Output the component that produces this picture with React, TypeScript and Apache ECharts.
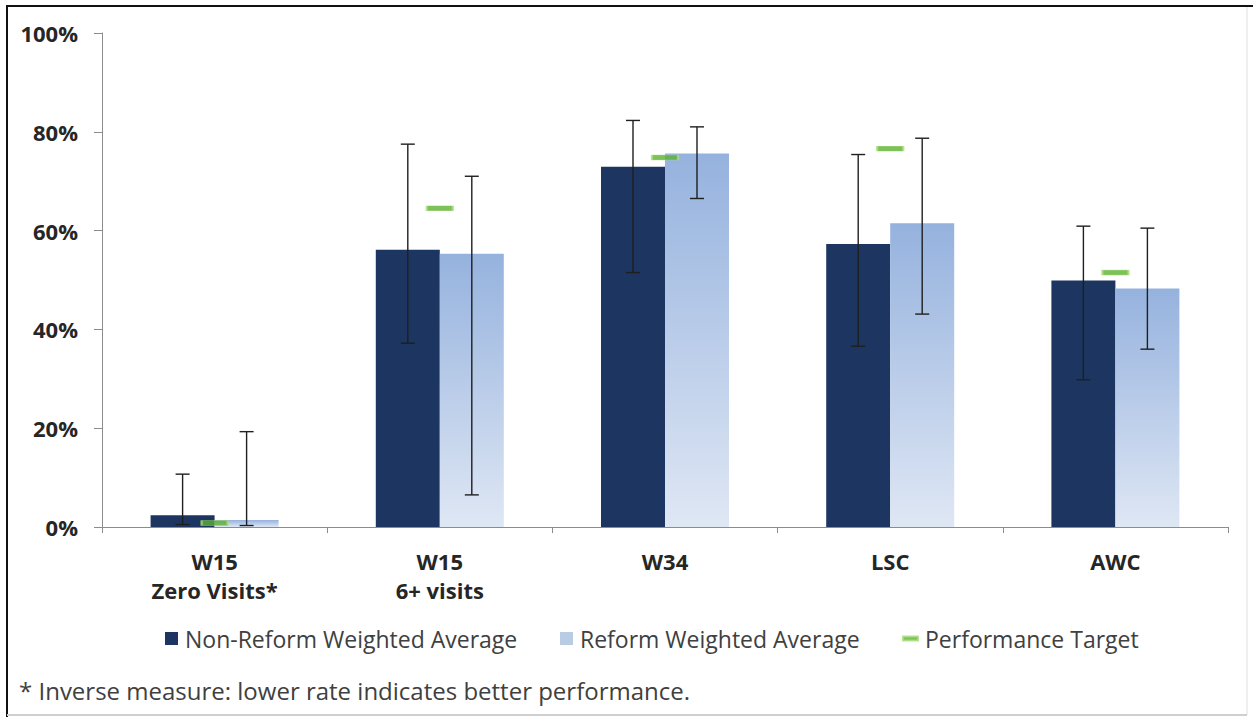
import React, { useEffect, useRef } from "react";
import * as echarts from "echarts";

const categories = ["W15\nZero Visits*", "W15\n6+ visits", "W34", "LSC", "AWC"];
const seriesNames = ["Non-Reform Weighted Average", "Reform Weighted Average", "Performance Target"];
const nonReform = [2.4, 56.1, 72.9, 57.3, 49.9];
const reform = [1.4, 55.3, 75.6, 61.5, 48.3];
const nonReformLow = [0.5, 37.2, 51.5, 36.6, 29.8];
const nonReformHigh = [10.7, 77.5, 82.3, 75.4, 60.9];
const reformLow = [0.3, 6.5, 66.5, 43.1, 36.0];
const reformHigh = [19.3, 71.0, 81.0, 78.7, 60.5];
const target = [0.8, 64.5, 74.8, 76.6, 51.5];
const footnote = "* Inverse measure: lower rate indicates better performance.";

const BAR_WIDTH = 64;
const FONT = '"Open Sans", "Noto Sans", sans-serif';

function errorRender(offset: number) {
  return (params: any, api: any) => {
    const idx = api.value(0);
    const low = api.coord([idx, api.value(1)]);
    const high = api.coord([idx, api.value(2)]);
    const x = low[0] + offset;
    const cap = 7;
    const style = { stroke: "#1f1f1f", lineWidth: 1.4 };
    return {
      type: "group",
      children: [
        { type: "line", shape: { x1: x, y1: low[1], x2: x, y2: high[1] }, style },
        { type: "line", shape: { x1: x - cap, y1: high[1], x2: x + cap, y2: high[1] }, style },
        { type: "line", shape: { x1: x - cap, y1: low[1], x2: x + cap, y2: low[1] }, style },
      ],
    };
  };
}

export default function App() {
  const ref = useRef<HTMLDivElement>(null);
  useEffect(() => {
    if (!ref.current) return;
    const chart = echarts.init(ref.current, null, { renderer: "svg" });
    const legendText = { fontFamily: FONT, fontSize: 23, color: "#404040", padding: [0, 0, 0, 2] };
    chart.setOption({
      animation: false,
      backgroundColor: "#ffffff",
      grid: { left: 102, right: 25, top: 33, bottom: 190, containLabel: false },
      legend: [
        {
          data: [{ name: seriesNames[0], itemStyle: { color: "#1C3661" } }],
          left: 160, top: 622, itemWidth: 13, itemHeight: 13, icon: "rect",
          textStyle: legendText, selectedMode: false,
        },
        {
          data: [{ name: seriesNames[1], itemStyle: { color: "#B8CCE4" } }],
          left: 555, top: 622, itemWidth: 13, itemHeight: 13, icon: "rect",
          textStyle: legendText, selectedMode: false,
        },
        {
          data: [{ name: seriesNames[2], itemStyle: { color: "#5DB130" } }],
          left: 897, top: 622, itemWidth: 15, itemHeight: 4, icon: "rect",
          textStyle: legendText, selectedMode: false,
        },
      ],
      xAxis: {
        type: "category",
        data: categories,
        axisLine: { lineStyle: { color: "#8C8C8C", width: 1 } },
        axisTick: { show: true, length: 6, lineStyle: { color: "#8C8C8C" } },
        axisLabel: {
          fontFamily: FONT, fontSize: 22, fontWeight: "bold", color: "#262626",
          lineHeight: 29, margin: 19,
        },
        splitLine: { show: false },
      },
      yAxis: {
        type: "value",
        min: 0, max: 100, interval: 20,
        axisLine: { show: true, lineStyle: { color: "#8C8C8C", width: 1 } },
        axisTick: { show: true, length: 8, lineStyle: { color: "#8C8C8C" } },
        axisLabel: {
          formatter: "{value}%", fontFamily: FONT, fontSize: 22, fontWeight: "bold",
          color: "#262626", margin: 24,
        },
        splitLine: { show: false },
      },
      graphic: [
        { type: "line", shape: { x1: 6, y1: 6, x2: 1253, y2: 6 }, style: { stroke: "#111", lineWidth: 2 } },
        { type: "line", shape: { x1: 7, y1: 6, x2: 7, y2: 717 }, style: { stroke: "#111", lineWidth: 2 } },
        { type: "line", shape: { x1: 1247, y1: 7, x2: 1247, y2: 715 }, style: { stroke: "#dedede", lineWidth: 1 } },
        { type: "line", shape: { x1: 7, y1: 715, x2: 1247, y2: 715 }, style: { stroke: "#cfcfcf", lineWidth: 2 } },
        {
          type: "text", left: 19, top: 678,
          style: { text: footnote, font: `24px ${FONT}`, fill: "#404040" },
        },
      ],
      series: [
        {
          name: seriesNames[0], type: "bar", data: nonReform, barWidth: BAR_WIDTH, barGap: "0%",
          itemStyle: { color: "#1C3661" }, z: 2,
        },
        {
          name: seriesNames[1], type: "bar", data: reform, barWidth: BAR_WIDTH, barGap: "0%",
          itemStyle: {
            color: new echarts.graphic.LinearGradient(0, 0, 0, 1, [
              { offset: 0, color: "#95B2DE" },
              { offset: 1, color: "#DFE7F4" },
            ]),
          },
          z: 2,
        },
        {
          type: "custom", renderItem: errorRender(-BAR_WIDTH / 2),
          data: nonReformLow.map((v, i) => [i, v, nonReformHigh[i]]),
          z: 5, silent: true,
        },
        {
          type: "custom", renderItem: errorRender(BAR_WIDTH / 2),
          data: reformLow.map((v, i) => [i, v, reformHigh[i]]),
          z: 5, silent: true,
        },
        {
          name: seriesNames[2], type: "scatter", data: target, symbol: "rect", symbolSize: [26, 5],
          itemStyle: { color: "#5DB130", borderColor: "#A9DC7E", borderWidth: 1 }, z: 6,
        },
      ],
    });
    return () => chart.dispose();
  }, []);
  return (
    <div
      ref={ref}
      style={{ position: "fixed", left: 0, top: 0, width: 1253, height: 717, background: "#fff" }}
    />
  );
}
